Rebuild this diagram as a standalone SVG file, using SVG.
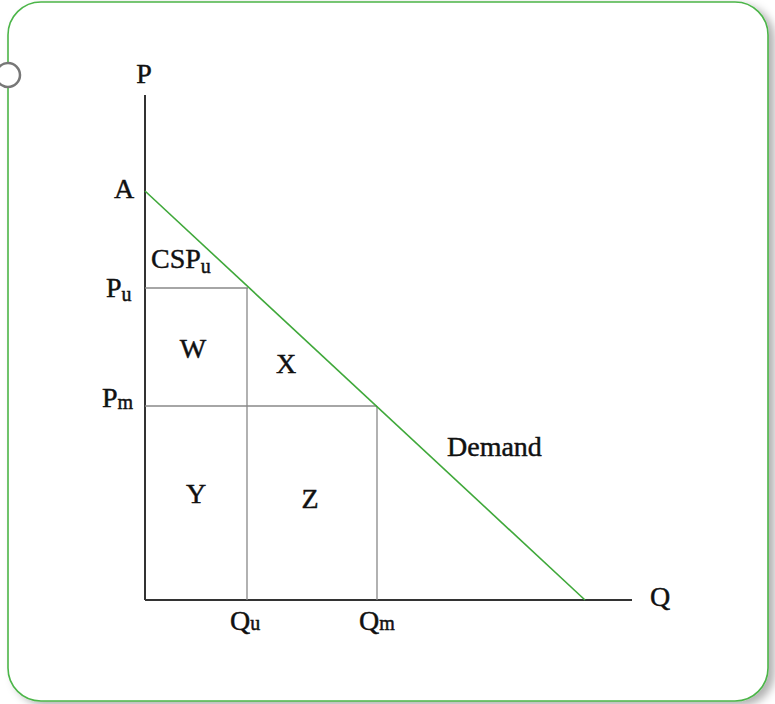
<svg xmlns="http://www.w3.org/2000/svg" width="775" height="704" viewBox="0 0 775 704">
<defs>
<filter id="sh" x="-5%" y="-5%" width="115%" height="115%">
<feDropShadow dx="6" dy="4" stdDeviation="4" flood-color="#000" flood-opacity="0.3"/>
</filter>
</defs>
<style>
.t{font-family:"Liberation Serif","Times New Roman",serif;font-size:28px;fill:#111;stroke:#111;stroke-width:0.45px;}
.s{font-size:20px;}
.ax{stroke:#333;stroke-width:2;fill:none;}
.g{stroke:#888;stroke-width:1.3;fill:none;}
.d{stroke:#3fa83a;stroke-width:1.6;fill:none;}
</style>
<rect width="775" height="704" fill="#fff"/>
<g id="frame">
<rect x="8" y="2" width="760" height="699" rx="33" ry="33" fill="#fff" stroke="#4cb548" stroke-width="1.6" filter="url(#sh)"/>
<circle cx="8" cy="75" r="12" fill="#fff" stroke="#777" stroke-width="2.5"/>
</g>
<g id="connectors">
<line class="ax" x1="145" y1="95" x2="145" y2="600"/>
<line class="ax" x1="145" y1="600" x2="632" y2="600"/>
<line class="g" x1="145" y1="288" x2="248" y2="288"/>
<line class="g" x1="145" y1="406" x2="377" y2="406"/>
<line class="g" x1="247" y1="288" x2="247" y2="600"/>
<line class="g" x1="377" y1="406" x2="377" y2="600"/>
<line class="d" x1="145" y1="191" x2="585" y2="600"/>
</g>
<g id="labels">
<text class="t" x="144" y="83" text-anchor="middle">P</text>
<text class="t" x="124" y="198" text-anchor="middle">A</text>
<text class="t" x="106" y="297">P<tspan class="s" dy="4">u</tspan></text>
<text class="t" x="151" y="268">CSP<tspan class="s" dy="5">u</tspan></text>
<text class="t" x="102" y="407">P<tspan class="s" dy="2">m</tspan></text>
<text class="t" x="193" y="358" text-anchor="middle">W</text>
<text class="t" x="286" y="373" text-anchor="middle">X</text>
<text class="t" x="196" y="503" text-anchor="middle">Y</text>
<text class="t" x="310" y="508" text-anchor="middle">Z</text>
<text class="t" x="447" y="456">Demand</text>
<text class="t" x="230" y="630">Q<tspan class="s">u</tspan></text>
<text class="t" x="359" y="630">Q<tspan class="s">m</tspan></text>
<text class="t" x="650" y="606">Q</text>
</g>
</svg>
